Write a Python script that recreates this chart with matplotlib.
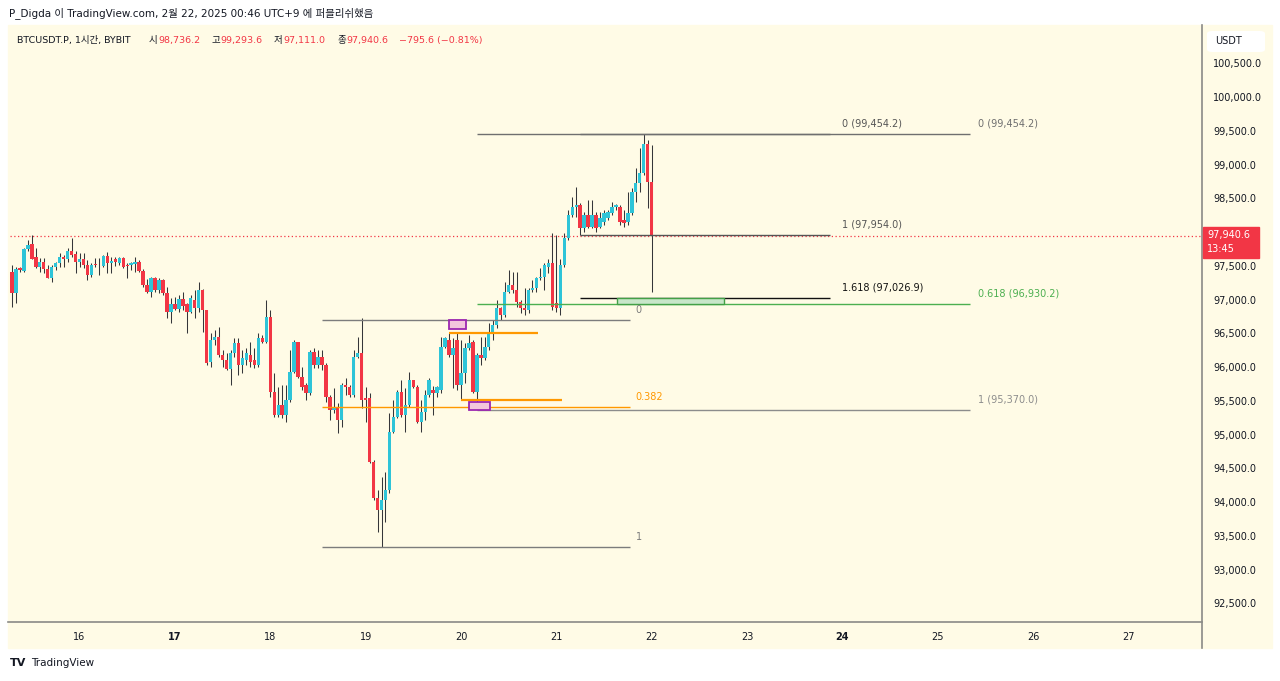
import matplotlib
matplotlib.use("Agg")
import matplotlib.pyplot as plt
import matplotlib.dates as mdates
from matplotlib.patches import Rectangle, FancyBboxPatch
from matplotlib.lines import Line2D
import pandas as pd

plt.rcParams['font.family'] = ['DejaVu Sans', 'Noto Sans CJK KR']

# hourly candles BTCUSDT.P, starting 2025-02-15 07:00
opens = [97413, 97092, 97462, 97428, 97744, 97823, 97635, 97487, 97551, 97447,
         97314, 97477, 97536, 97625, 97596, 97724, 97675, 97561, 97596, 97512,
         97364, 97526, 97512, 97497, 97645, 97536, 97596, 97546, 97610, 97517,
         97512, 97521, 97561, 97428, 97215, 97117, 97314, 97141, 97289, 97092,
         96820, 96934, 96855, 97003, 96934, 96820, 97000, 96880, 97141, 96845,
         96080, 96401, 96451, 96179, 96105, 95967, 96204, 96352, 96031, 96105,
         96180, 96105, 96031, 96426, 96377, 96747, 95636, 95290, 95438, 95290,
         95513, 95932, 96377, 95858, 95735, 95611, 96228, 96031, 96154, 96031,
         95562, 95364, 95414, 95216, 95735, 95710, 95587, 96154, 96204, 95537,
         95537, 94599, 94056, 93883, 94032, 94180, 95043, 95266, 95636, 95290,
         95438, 95809, 95710, 95192, 95340, 95587, 95661, 95611, 95661, 96302,
         96401, 96179, 96401, 95735, 95908, 96278, 96376, 95636, 96179, 96130,
         96302, 96500, 96623, 96870, 96771, 97117, 97215, 97140, 96969, 96870,
         96845, 97141, 97166, 97314, 97339, 97480, 97537, 96944, 96870, 97512,
         97907, 98252, 98376, 98400, 98055, 98252, 98080, 98252, 98080, 98154,
         98203, 98277, 98376, 98376, 98178, 98154, 98277, 98598, 98721, 98869,
         99299, 98736.2]
highs = [97512, 97487, 97487, 97758, 97882, 97956, 97758, 97610, 97610, 97512,
         97512, 97561, 97684, 97660, 97758, 97907, 97724, 97684, 97684, 97586,
         97536, 97610, 97610, 97660, 97709, 97635, 97635, 97635, 97635, 97536,
         97561, 97635, 97586, 97447, 97299, 97339, 97339, 97314, 97299, 97191,
         97018, 97043, 97067, 97117, 96944, 97067, 97141, 97265, 97151, 96845,
         96500, 96550, 96599, 96253, 96204, 96253, 96426, 96426, 96253, 96278,
         96377, 96278, 96500, 96475, 96994, 96846, 95908, 95710, 95735, 95735,
         96253, 96401, 96377, 96006, 95759, 96253, 96278, 96253, 96253, 96056,
         95587, 95685, 95463, 95759, 95833, 95735, 96253, 96451, 96722, 95710,
         95611, 94624, 94180, 94377, 94451, 95315, 95513, 95661, 95809, 95685,
         95932, 95809, 95735, 95513, 95661, 95834, 95720, 95720, 96450, 96450,
         96500, 96426, 96525, 96401, 96352, 96475, 96401, 96204, 96450, 96450,
         96648, 96697, 96994, 96895, 97260, 97438, 97413, 97413, 96990, 97166,
         97166, 97290, 97339, 97460, 97536, 97600, 97981, 97960, 97600, 97981,
         98320, 98524, 98672, 98425, 98302, 98475, 98475, 98302, 98300, 98330,
         98330, 98450, 98420, 98400, 98330, 98598, 98650, 98943, 99240, 99454.2,
         99363, 99293.6]
lows = [96894, 96954, 97413, 97413, 97724, 97596, 97462, 97413, 97388, 97314,
        97265, 97438, 97487, 97477, 97561, 97635, 97388, 97487, 97462, 97289,
        97339, 97487, 97364, 97487, 97388, 97388, 97497, 97512, 97462, 97314,
        97438, 97413, 97413, 97191, 97092, 97043, 97117, 97092, 97067, 96722,
        96648, 96845, 96820, 96845, 96500, 96796, 96722, 96820, 96524, 96031,
        96006, 96330, 96154, 96006, 95957, 95735, 96154, 95883, 95908, 96031,
        96006, 95982, 96006, 96352, 96352, 95562, 95266, 95266, 95241, 95192,
        95488, 95908, 95833, 95661, 95513, 95587, 95982, 95982, 95957, 95488,
        95216, 95315, 95019, 95118, 95587, 95562, 95562, 96130, 95389, 95192,
        94574, 94032, 93562, 93330, 93711, 94130, 95019, 95241, 95266, 95044,
        95414, 95685, 95167, 95044, 95216, 95562, 95290, 95562, 95611, 96278,
        96154, 95685, 95661, 95513, 95759, 96253, 95611, 95414, 96031, 96105,
        96250, 96401, 96575, 96697, 96746, 97090, 97100, 96895, 96800, 96771,
        96800, 97117, 97117, 97290, 97141, 97400, 96845, 96821, 96771, 97480,
        97880, 98228, 98228, 97956, 98006, 98055, 98055, 98006, 98060, 98104,
        98180, 98252, 98330, 98104, 98080, 98104, 98252, 98450, 98598, 98850,
        98351, 97111.0]
closes = [97092, 97447, 97438, 97744, 97808, 97596, 97487, 97561, 97447, 97314,
          97487, 97536, 97635, 97596, 97724, 97660, 97561, 97596, 97512, 97364,
          97512, 97507, 97507, 97645, 97536, 97576, 97561, 97610, 97487, 97502,
          97536, 97561, 97428, 97215, 97117, 97314, 97141, 97289, 97092, 96820,
          96934, 96855, 97003, 96904, 96820, 97018, 96880, 97141, 96845, 96055,
          96401, 96450, 96179, 96105, 95967, 96204, 96352, 96031, 96130, 96204,
          96080, 96031, 96426, 96377, 96747, 95636, 95290, 95438, 95290, 95513,
          95932, 96377, 95858, 95710, 95611, 96228, 96031, 96154, 96031, 95562,
          95364, 95414, 95216, 95735, 95710, 95587, 96154, 96204, 95513, 95513,
          94599, 94056, 93883, 94032, 94180, 95043, 95266, 95636, 95290, 95438,
          95809, 95710, 95192, 95340, 95587, 95809, 95611, 95710, 96302, 96426,
          96179, 96278, 95735, 95908, 96278, 96352, 95636, 96179, 96130, 96302,
          96500, 96623, 96870, 96771, 97117, 97215, 97140, 96969, 96870, 96845,
          97141, 97166, 97314, 97339, 97512, 97540, 96895, 96870, 97512, 97907,
          98252, 98376, 98400, 98055, 98252, 98080, 98252, 98055, 98203, 98277,
          98302, 98376, 98400, 98154, 98129, 98277, 98598, 98721, 98869, 99299,
          98746, 97940.6]

day_ticks = ['2025-02-16', '2025-02-17', '2025-02-18', '2025-02-19', '2025-02-20', '2025-02-21',
             '2025-02-22', '2025-02-23', '2025-02-24', '2025-02-25', '2025-02-26', '2025-02-27']
day_labels = ['16', '17', '18', '19', '20', '21', '22', '23', '24', '25', '26', '27']
bold_days = ['17', '24']
# 98,000 sits under the last-price tag
price_ticks = [p for p in range(92500, 101000, 500) if p != 98000]

# fib drawings: (start, end, level prices)
fib_a_start, fib_a_end = '2025-02-21 06:00', '2025-02-23 21:00'
fib_a_levels = [99454.2, 97954.0, 97026.9]
fib_a_names = ['0 (99,454.2)', '1 (97,954.0)', '1.618 (97,026.9)']
fib_b_start, fib_b_end = '2025-02-20 04:00', '2025-02-25 08:00'
fib_b_levels = [99454.2, 96930.2, 95370.0]
fib_b_names = ['0 (99,454.2)', '0.618 (96,930.2)', '1 (95,370.0)']
fib_c_start, fib_c_end = '2025-02-18 13:00', '2025-02-21 18:30'
fib_c_levels = [96690.0, 95406.5, 93330.0]
fib_c_names = ['0', '0.382', '1']
orange_rays = [('2025-02-19 21:00', '2025-02-20 19:20', 96505.0),
               ('2025-02-20 00:00', '2025-02-21 01:24', 95512.0)]
purple_boxes = [('2025-02-19 21:00', '2025-02-20 01:12', 96565.0, 96700.0),
                ('2025-02-20 02:00', '2025-02-20 07:18', 95365.0, 95483.0)]
green_box = ('2025-02-21 15:12', '2025-02-22 18:06', 96930.2, 97026.9)

CREAM = '#fffbe6'
UP = '#2ec4d8'
DOWN = '#f23645'
WICK = '#35363a'
GRID = '#8a8a86'

times = pd.date_range('2025-02-15 07:00', periods=len(opens), freq='h')
xs = mdates.date2num(times)
hour = 1 / 24.0


def t(s):
    return mdates.date2num(pd.Timestamp(s))


fig = plt.figure(figsize=(12.8, 6.81), dpi=100)
fig.patch.set_facecolor('white')
fig.patches.append(Rectangle((8 / 1280, 1 - 648 / 681), 1264 / 1280, 623 / 681,
                             transform=fig.transFigure, color=CREAM, zorder=-5))

ax = fig.add_axes([10 / 1280, 1 - 622 / 681, 1192 / 1280, 597 / 681])
ax.set_facecolor(CREAM)
for s in ax.spines.values():
    s.set_visible(False)

# candles
for x, o, h, l, c in zip(xs, opens, highs, lows, closes):
    col = UP if c >= o else DOWN
    ax.vlines(x, l, h, color=WICK, lw=0.75, zorder=2)
    ax.bar(x, max(abs(c - o), 8), bottom=min(o, c), width=0.85 * hour,
           color=col, edgecolor='none', zorder=3)

# last price line
ax.axhline(closes[-1], color=DOWN, lw=0.9, ls=(0, (1, 2)), zorder=1)


def level_line(start, end, price, color, lw=1.0):
    ax.plot([t(start), t(end)], [price, price], color=color, lw=lw, zorder=4,
            solid_capstyle='butt')


def level_text(when, price, text, color):
    ax.annotate(text, xy=(t(when), price), xytext=(0, 4), textcoords='offset points',
                va='bottom', ha='left', fontsize=7, color=color, zorder=6)


# fib C (swing low fib)
c_colors = ['#7c7c7c', '#ff9800', '#7c7c7c']
for p, col in zip(fib_c_levels, c_colors):
    level_line(fib_c_start, fib_c_end, p, col)
for p, name, col in zip(fib_c_levels, fib_c_names, c_colors):
    level_text('2025-02-21 20:00', p, name, col)

# fib B
b_colors = ['#6f6f6f', '#4caf50', '#8c8c8c']
for p, col in zip(fib_b_levels, b_colors):
    level_line(fib_b_start, fib_b_end, p, col)
for p, name, col in zip(fib_b_levels, fib_b_names, b_colors):
    level_text('2025-02-25 10:00', p, name, col)

# fib A
a_colors = ['#6f6f6f', '#555555', '#111111']
for p, col in zip(fib_a_levels, a_colors):
    level_line(fib_a_start, fib_a_end, p, col)
for p, name, col in zip(fib_a_levels, fib_a_names, ['#555555', '#555555', '#111111']):
    level_text('2025-02-24 00:00', p, name, col)

for s0, s1, p in orange_rays:
    level_line(s0, s1, p, '#ff9800', lw=1.6)

for s0, s1, p0, p1 in purple_boxes:
    ax.add_patch(Rectangle((t(s0), p0), t(s1) - t(s0), p1 - p0, facecolor='#f3c6dc',
                           edgecolor='#9c27b0', lw=1.3, zorder=5))

g0, g1, gp0, gp1 = green_box
ax.add_patch(Rectangle((t(g0), gp0), t(g1) - t(g0), gp1 - gp0, facecolor='#c8e6c9',
                       edgecolor='#43a047', lw=1.0, zorder=5))

ax.set_xlim(t('2025-02-15 06:30'), t('2025-02-27 18:30'))
ax.set_ylim(92225, 101066)

ax.yaxis.tick_right()
ax.set_yticks(price_ticks)
ax.set_yticklabels([f'{p:,.1f}' for p in price_ticks])
ax.tick_params(axis='y', length=0, pad=8, labelsize=7, labelcolor='#131722')
ax.set_xticks([t(d) for d in day_ticks])
ax.set_xticklabels(day_labels)
ax.tick_params(axis='x', length=0, pad=7, labelsize=7, labelcolor='#131722')
for lab in ax.get_xticklabels():
    if lab.get_text() in bold_days:
        lab.set_fontweight('bold')

# frame lines (right price scale and bottom time scale)
fig.lines.append(Line2D([1202 / 1280, 1202 / 1280], [1 - 25 / 681, 1 - 648 / 681],
                        transform=fig.transFigure, color=GRID, lw=1.2))
fig.lines.append(Line2D([8 / 1280, 1202 / 1280], [1 - 622 / 681, 1 - 622 / 681],
                        transform=fig.transFigure, color=GRID, lw=1.2))

# last price tag
fig.canvas.draw()
ypx = ax.transData.transform((xs[-1], closes[-1]))[1]
fig.patches.append(Rectangle((1203 / 1280, (ypx - 22) / 681), 56 / 1280, 31 / 681,
                             transform=fig.transFigure, color=DOWN, zorder=5))
fig.text(1207 / 1280, (ypx + 1) / 681, f'{closes[-1]:,.1f}', color='white', fontsize=7,
         va='center', zorder=6)
fig.text(1207 / 1280, (ypx - 13) / 681, '13:45', color='white', fontsize=7,
         va='center', zorder=6)

# currency tag
fig.patches.append(FancyBboxPatch((1207 / 1280, 1 - 52 / 681), 58 / 1280, 21 / 681,
                                  boxstyle='round,pad=0,rounding_size=0.004',
                                  transform=fig.transFigure, facecolor='white',
                                  edgecolor='none', zorder=5))
fig.text(1215 / 1280, 1 - 41 / 681, 'USDT', fontsize=7, va='center', color='#131722', zorder=6)

# header
fig.text(9 / 1280, 1 - 13 / 681, 'P_Digda 이 TradingView.com, 2월 22, 2025 00:46 UTC+9 에 퍼블리쉬했음',
         fontsize=7.5, va='center', color='#131722')

legend_parts = [(17, 'BTCUSDT.P, 1시간, BYBIT', '#131722'),
                (149, '시', '#131722'), (158, f'{opens[-1]:,.1f}', DOWN),
                (211, '고', '#131722'), (220, f'{highs[-1]:,.1f}', DOWN),
                (274, '저', '#131722'), (283, f'{lows[-1]:,.1f}', DOWN),
                (337, '종', '#131722'), (346, f'{closes[-1]:,.1f}', DOWN),
                (399, f'\u2212{opens[-1] - closes[-1]:,.1f} (\u2212{(opens[-1] - closes[-1]) / opens[-1] * 100:.2f}%)', DOWN)]
for px, txt, col in legend_parts:
    fig.text(px / 1280, 1 - 40 / 681, txt, fontsize=6.8, va='center', color=col, zorder=6)

fig.text(10 / 1280, 1 - 663 / 681, 'TV', fontsize=8, fontweight='bold', va='center', color='#131722')
fig.text(31 / 1280, 1 - 663 / 681, 'TradingView', fontsize=7.5, va='center', color='#131722')

fig.savefig('out.png', dpi=100, facecolor='white')
